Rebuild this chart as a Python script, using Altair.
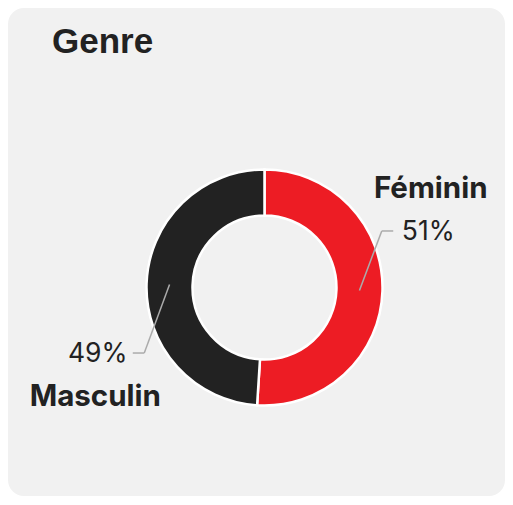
import altair as alt
import pandas as pd

# ---- data ----
categories = ["Féminin", "Masculin"]
shares = [51, 49]
colors = ["#ED1C24", "#222222"]
title_text = "Genre"

# ---- layout ----
W, H = 497, 488
CX, CY = 256.5, 279.5
R_OUT, R_IN = 118, 72
R_MID = 95          # leader start radius
R_ELB = 133.5       # leader elbow radius
TURN = 29           # elbow angle offset (deg, counter-clockwise)
ELB_DX = -1.5       # horizontal nudge of elbow
ELB_DY = 4.5        # vertical nudge of elbow
ARM = 11.5          # horizontal arm length
PCT_OFF = 46.5      # centre of percent label from elbow
NAME_OFF = 49       # centre of category name from elbow
NAME_DY = 42.5

df = pd.DataFrame({"genre": categories, "share": shares,
                   "rank": list(range(len(categories)))})

base = alt.Chart(df)
color_scale = alt.Scale(domain=categories, range=colors)

arcs = base.mark_arc(innerRadius=R_IN, outerRadius=R_OUT, stroke="white",
                     strokeWidth=2.5, x=CX, y=CY).encode(
    theta=alt.Theta("share:Q", stack=True),
    color=alt.Color("genre:N", scale=color_scale, legend=None),
    order=alt.Order("rank:Q"),
)

geo = (
    base.transform_joinaggregate(total="sum(share)")
    .transform_window(cum="sum(share)", sort=[alt.SortField("rank")], frame=[None, 0])
    .transform_calculate(mid="2*PI*(datum.cum - datum.share/2)/datum.total")
    .transform_calculate(ea=f"datum.mid - {TURN}*PI/180")
    .transform_calculate(side="sin(datum.mid) >= 0 ? 1 : -1")
    .transform_calculate(x0=f"{CX} + {R_MID}*sin(datum.mid)")
    .transform_calculate(y0=f"{CY} - {R_MID}*cos(datum.mid)")
    .transform_calculate(x1=f"{CX} + {R_ELB}*sin(datum.ea) + {ELB_DX}")
    .transform_calculate(y1=f"{CY} - {R_ELB}*cos(datum.ea) + {ELB_DY}")
    .transform_calculate(x2=f"datum.x1 + datum.side*{ARM}")
    .transform_calculate(vs=f"datum.y1 < {CY} ? -1 : 1")
    .transform_calculate(px=f"datum.x1 + datum.side*{PCT_OFF}")
    .transform_calculate(py="datum.y1 + 1")
    .transform_calculate(nx=f"datum.x1 + datum.side*{NAME_OFF}")
    .transform_calculate(ny=f"datum.y1 + 1 + datum.vs*{NAME_DY}")
    .transform_calculate(label="datum.share + '%'")
)

LINE = "#ABABAB"
seg1 = geo.mark_rule(color=LINE, strokeWidth=1.5).encode(
    x=alt.X("x0:Q", scale=None, axis=None),
    y=alt.Y("y0:Q", scale=None, axis=None),
    x2="x1:Q", y2="y1:Q",
)
seg2 = geo.mark_rule(color=LINE, strokeWidth=1.5).encode(
    x=alt.X("x1:Q", scale=None, axis=None),
    y=alt.Y("y1:Q", scale=None, axis=None),
    x2="x2:Q", y2="y1:Q",
)
pct = geo.mark_text(font="Inter", fontSize=26.5, color="#222222",
                    align="center", baseline="middle").encode(
    x=alt.X("px:Q", scale=None, axis=None),
    y=alt.Y("py:Q", scale=None, axis=None),
    text="label:N",
)
names = geo.mark_text(font="Inter", fontSize=29.5, fontWeight="bold", color="#222222",
                      align="center", baseline="middle").encode(
    x=alt.X("nx:Q", scale=None, axis=None),
    y=alt.Y("ny:Q", scale=None, axis=None),
    text="genre:N",
)
title = alt.Chart(pd.DataFrame({"t": [title_text]})).mark_text(
    font="Liberation Sans", fontSize=35, fontWeight="bold", color="#222222",
    align="left", baseline="alphabetic").encode(
    x=alt.value(44), y=alt.value(45), text="t:N")

chart = alt.layer(arcs, seg1, seg2, pct, names, title).properties(
    width=W, height=H, autosize="none", padding=0, background="white"
).configure_view(fill="#F1F1F1", cornerRadius=16, strokeWidth=0)

chart.save("out.html", embed_options={"renderer": "svg", "actions": False})
